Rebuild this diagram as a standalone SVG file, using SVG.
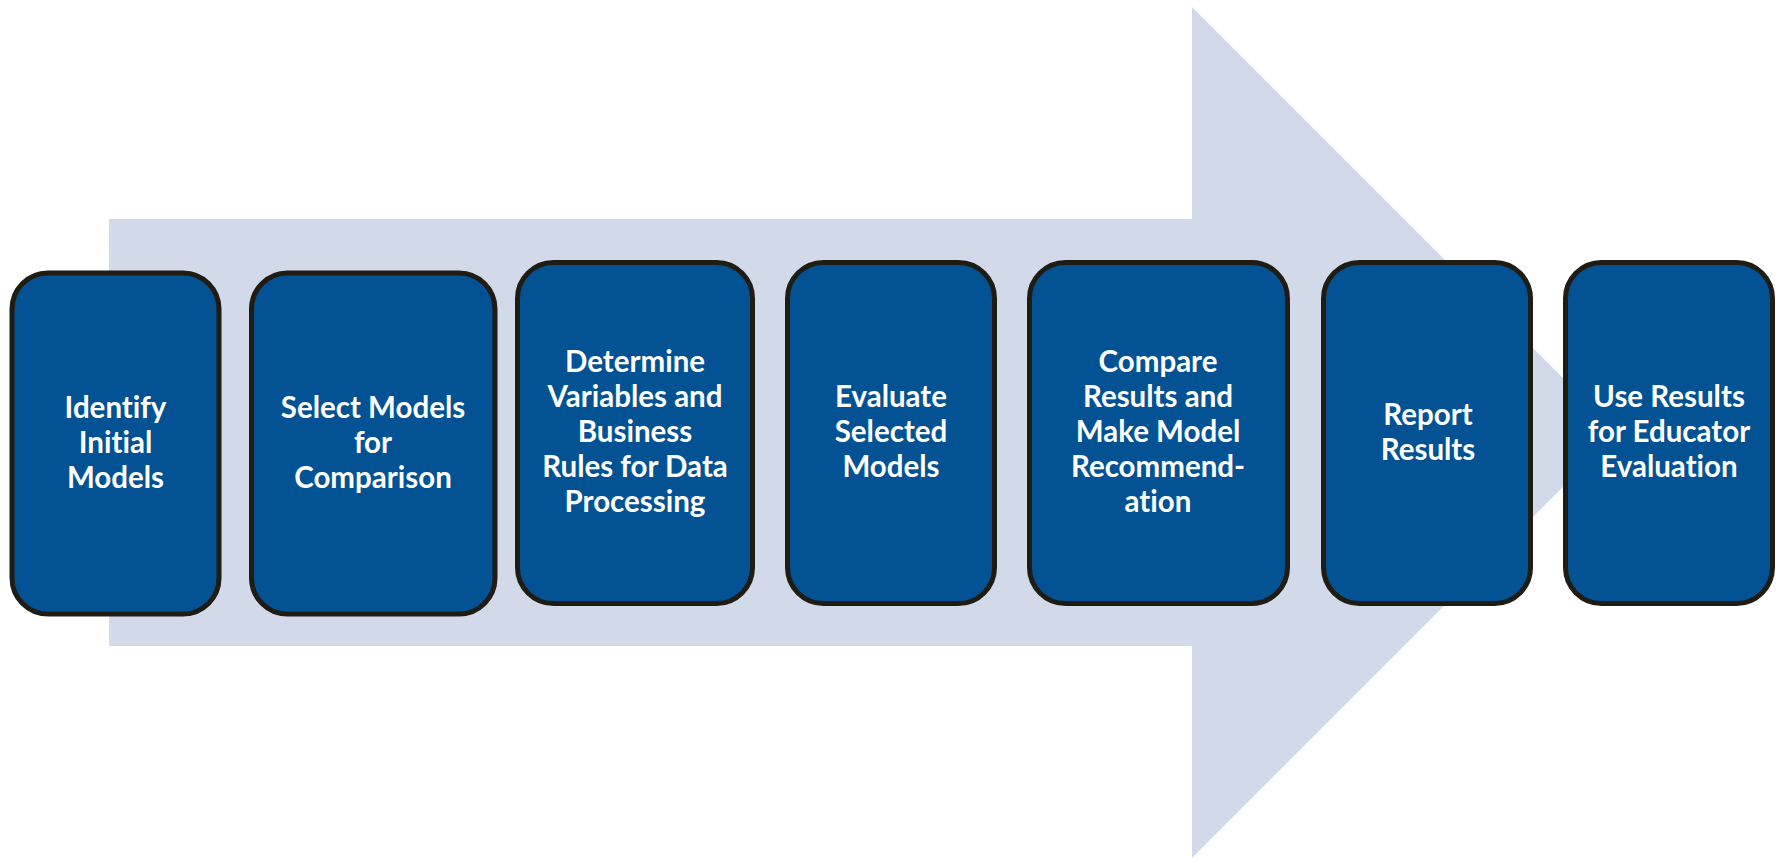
<svg xmlns="http://www.w3.org/2000/svg" width="1779" height="858" viewBox="0 0 1779 858">
  <style>
    .step rect { fill: #035293; stroke: #1f1c14; stroke-width: 5; }
    .step text { fill: #ffffff; font-family: "Lato", "Carlito", "Open Sans", sans-serif; font-weight: 700; font-size: 29.5px; text-anchor: middle; font-variant-ligatures: none; }
  </style>
  <rect width="1779" height="858" fill="#ffffff"/>
  <!-- large background arrow -->
  <g id="connectors">
    <path d="M109 219 H1192 V7 L1617.5 432.5 L1192 858 V646 H109 Z" fill="#d2d9e8"/>
  </g>

  <g id="step1" class="step">
    <rect x="12" y="273" width="207" height="341" rx="36"/>
    <text x="115.5" y="418">Identify</text>
    <text x="115.5" y="453">Initial</text>
    <text x="115.5" y="488">Models</text>
  </g>
  <g id="step2" class="step">
    <rect x="251.5" y="273" width="243.5" height="341" rx="36"/>
    <text x="373" y="418">Select Models</text>
    <text x="373" y="453">for</text>
    <text x="373" y="488">Comparison</text>
  </g>
  <g id="step3" class="step">
    <rect x="517.5" y="262.5" width="235" height="341" rx="36"/>
    <text x="635" y="372">Determine</text>
    <text x="635" y="407">Variables and</text>
    <text x="635" y="442">Business</text>
    <text x="635" y="477">Rules for Data</text>
    <text x="635" y="512">Processing</text>
  </g>
  <g id="step4" class="step">
    <rect x="787.5" y="262.5" width="207" height="341" rx="36"/>
    <text x="891" y="407">Evaluate</text>
    <text x="891" y="442">Selected</text>
    <text x="891" y="477">Models</text>
  </g>
  <g id="step5" class="step">
    <rect x="1029.5" y="262.5" width="258" height="341" rx="36"/>
    <text x="1158" y="372">Compare</text>
    <text x="1158" y="407">Results and</text>
    <text x="1158" y="442">Make Model</text>
    <text x="1158" y="477">Recommend-</text>
    <text x="1158" y="512">ation</text>
  </g>
  <g id="step6" class="step">
    <rect x="1323.5" y="262.5" width="207" height="341" rx="36"/>
    <text x="1428" y="425">Report</text>
    <text x="1428" y="460">Results</text>
  </g>
  <g id="step7" class="step">
    <rect x="1565.5" y="262.5" width="207" height="341" rx="36"/>
    <text x="1669" y="407">Use Results</text>
    <text x="1669" y="442">for Educator</text>
    <text x="1669" y="477">Evaluation</text>
  </g>
</svg>
